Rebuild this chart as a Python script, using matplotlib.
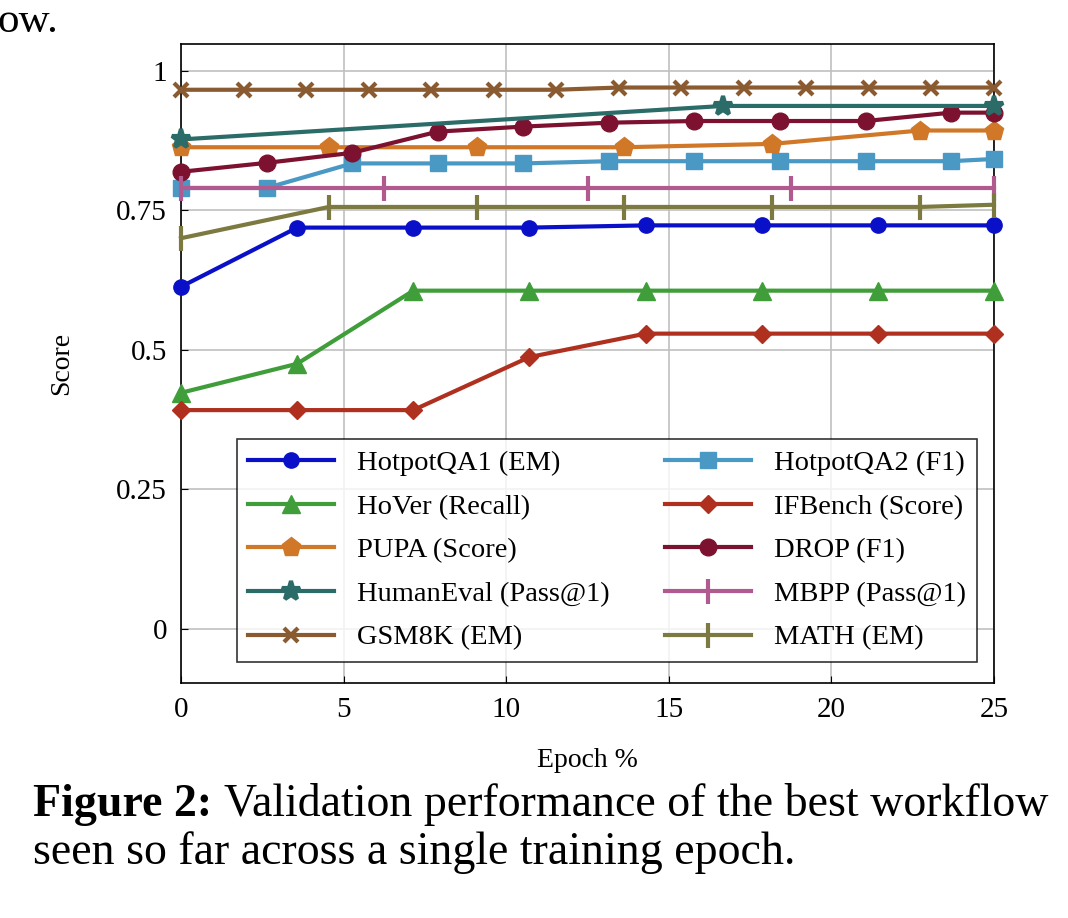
import matplotlib
matplotlib.use("Agg")
import matplotlib.pyplot as plt

plt.rcParams['font.family'] = ['Liberation Serif', 'DejaVu Serif']

s7 = 25/7; s95 = 25/9.5; s55 = 25/5.5; s13 = 25/13
hq1_x = [0, s7, 2*s7, 3*s7, 4*s7, 5*s7, 6*s7, 7*s7]
hq1_y = [0.613, 0.719, 0.719, 0.719, 0.723, 0.723, 0.723, 0.723]
hq2_x = [0, s95, 2*s95, 3*s95, 4*s95, 5*s95, 6*s95, 7*s95, 8*s95, 9*s95, 25]
hq2_y = [0.79, 0.79, 0.834, 0.834, 0.834, 0.838, 0.838, 0.838, 0.838, 0.838, 0.842]
hover_x = hq1_x
hover_y = [0.423, 0.475, 0.606, 0.606, 0.606, 0.606, 0.606, 0.606]
ifb_x = hq1_x
ifb_y = [0.392, 0.392, 0.392, 0.487, 0.529, 0.529, 0.529, 0.529]
pupa_x = [0, s55, 2*s55, 3*s55, 4*s55, 5*s55, 25]
pupa_y = [0.863, 0.863, 0.863, 0.863, 0.869, 0.893, 0.893]
drop_x = hq2_x
drop_y = [0.819, 0.835, 0.853, 0.891, 0.900, 0.907, 0.910, 0.910, 0.910, 0.925, 0.925]
he_x = [0, 16.67, 25]
he_y = [0.877, 0.937, 0.937]
mbpp_x = [0, 6.25, 12.5, 18.75, 25]
mbpp_y = [0.790, 0.790, 0.790, 0.790, 0.790]
gsm_x = [i*s13 for i in range(14)]
gsm_y = [0.966]*7 + [0.970]*7
math_x = pupa_x
math_y = [0.700, 0.756, 0.756, 0.756, 0.756, 0.756, 0.760]

series = [
    ("HotpotQA1 (EM)", hq1_x, hq1_y, '#0a10c8', 'o', 11),
    ("HotpotQA2 (F1)", hq2_x, hq2_y, '#4a98c4', 's', 11),
    ("HoVer (Recall)", hover_x, hover_y, '#3f9e3a', '^', 13),
    ("IFBench (Score)", ifb_x, ifb_y, '#b03020', 'D', 9),
    ("PUPA (Score)", pupa_x, pupa_y, '#d07828', 'p', 14),
    ("DROP (F1)", drop_x, drop_y, '#7c1230', 'o', 12),
    ("HumanEval (Pass@1)", he_x, he_y, '#2b6b68', '*', 14),
    ("MBPP (Pass@1)", mbpp_x, mbpp_y, '#b05a90', '|', 18),
    ("GSM8K (EM)", gsm_x, gsm_y, '#8a5a30', 'x', 10),
    ("MATH (EM)", math_x, math_y, '#7c7a40', '|', 18),
]

fig = plt.figure(figsize=(10.68, 9.18), dpi=100)
ax = fig.add_axes([181/1068, 235/918, 813/1068, 639/918])
handles = []
for lab, x, y, c, m, ms in series:
    h, = ax.plot(x, y, color=c, marker=m, markersize=ms, lw=3,
                 mew=3 if m in 'x|*' else 1, label=lab, clip_on=False, zorder=3)
    handles.append(h)

ax.set_xlim(0, 25)
ax.set_ylim(-0.097, 1.048)
ax.set_xticks([0, 5, 10, 15, 20, 25])
ax.set_yticks([0, 0.25, 0.5, 0.75, 1])
ax.set_yticklabels(['0', '0.25', '0.5', '0.75', '1'])
ax.grid(True, color='#c0c0c0', lw=1.2)
ax.tick_params(labelsize=21, direction='in', length=5, pad=10)
for sp in ax.spines.values():
    sp.set_linewidth(1.2)
ax.set_xlabel('Epoch %', fontsize=20, labelpad=18)
ax.set_ylabel('Score', fontsize=20, labelpad=30)

order = [0, 2, 4, 6, 8, 1, 3, 5, 7, 9]
leg = ax.legend([handles[i] for i in order], [series[i][0] for i in order], ncol=2,
                loc='lower left', bbox_to_anchor=(56/813, 21/639, 740/813, 242/639), mode='expand',
                fontsize=20.5, frameon=True, fancybox=False, edgecolor='black', handlelength=3,
                labelspacing=0.62, columnspacing=0.6, borderaxespad=0, handletextpad=0.8)
leg.get_frame().set_linewidth(1.2)
leg.set_zorder(5)

fig.text(-0.002, 1 - 22/918, 'ow.', fontsize=31, va='center', ha='left')
t1 = fig.text(33/1068, 1 - 805/918, 'Figure 2:', fontsize=33, va='center', ha='left', weight='bold')
fig.canvas.draw()
bb = t1.get_window_extent()
fig.text((bb.x1 + 12) / 1068, 1 - 805/918, 'Validation performance of the best workflow',
         fontsize=33, va='center', ha='left')
fig.text(33/1068, 1 - 853/918, 'seen so far across a single training epoch.', fontsize=33, va='center', ha='left')

fig.savefig('out.png', dpi=100)
